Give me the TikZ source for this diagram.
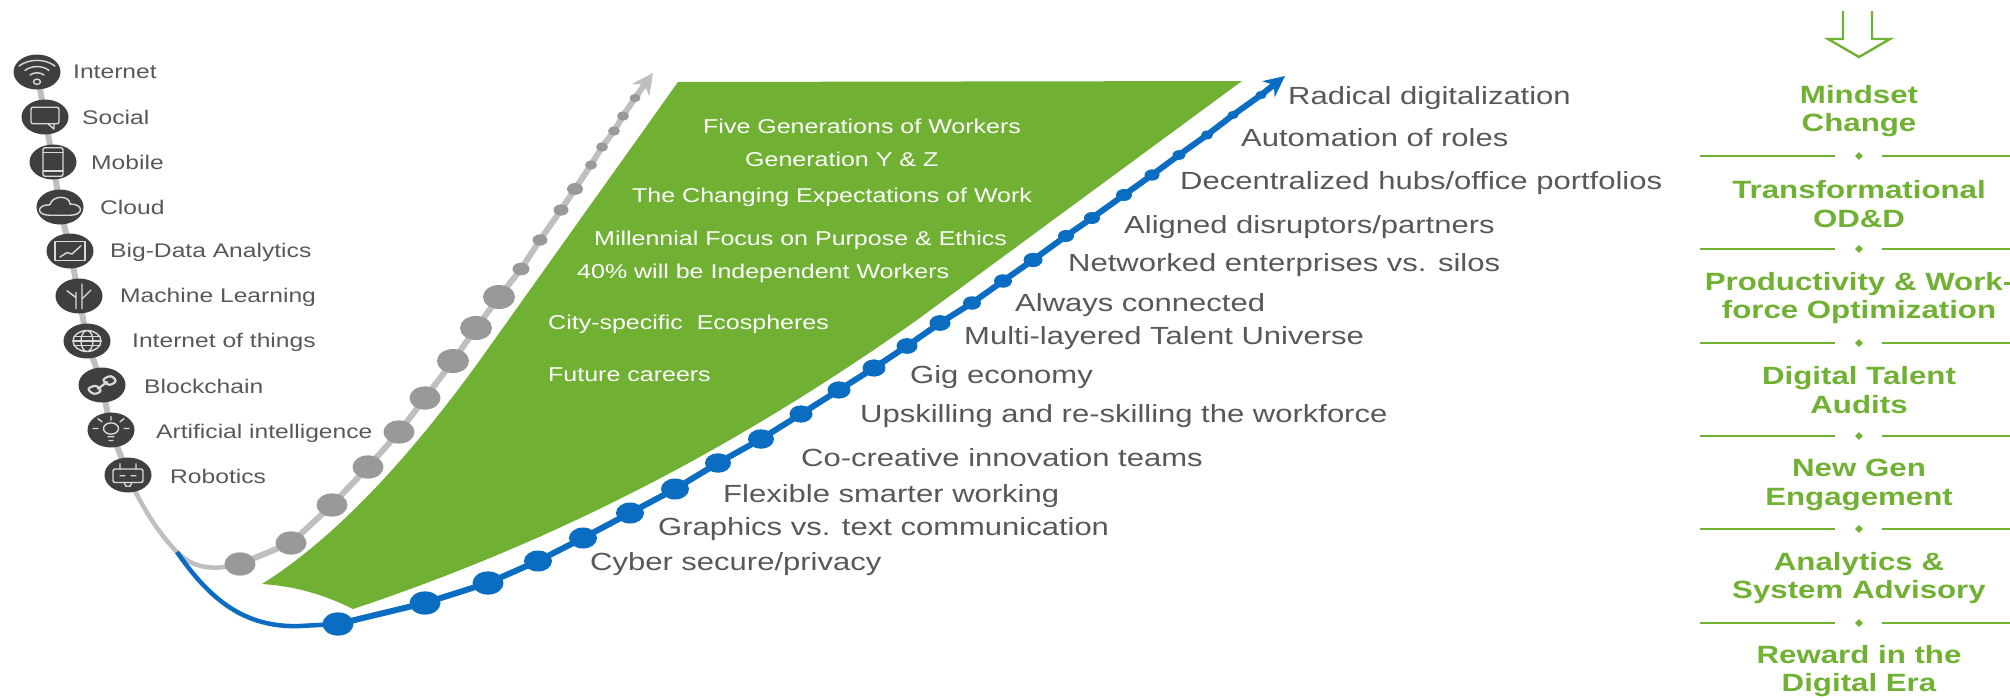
\documentclass[tikz,border=0pt]{standalone}
\usepackage{fontspec}
\setmainfont[FakeStretch=1.25]{Liberation Sans}
\usetikzlibrary{arrows.meta}
\usetikzlibrary{backgrounds}
\usetikzlibrary{shapes.geometric}
\definecolor{leaf}{HTML}{70B133}
\definecolor{techblue}{HTML}{0A6DC2}
\definecolor{inkgrey}{HTML}{58585A}
\definecolor{icondark}{HTML}{3F3F41}
\tikzset{
  techdot/.style={ellipse, fill=icondark, draw=none, minimum width=47pt, minimum height=35pt, inner sep=0pt},
  icon/.style={draw=white!85!black, line width=1.4pt, line join=round, line cap=round},
  iconat/.style={shift={(#1.center)}, yscale=0.75},
  techlabel/.style={anchor=west, inner sep=0pt, text=inkgrey, font=\fontsize{19.7}{22}\selectfont},
  greydot/.style={ellipse, fill=black!40, draw=none, inner sep=0pt},
  bluedot/.style={ellipse, fill=techblue, draw=none, inner sep=0pt},
  trendlabel/.style={anchor=west, inner sep=0pt, text=inkgrey, font=\fontsize{24.8}{28}\selectfont},
  worklabel/.style={anchor=west, inner sep=0pt, text=white, font=\fontsize{20}{22}\selectfont},
  sidelabel/.style={align=center, inner sep=0pt, text=leaf, font=\fontsize{25}{28.5}\selectfont\bfseries},
  sideline/.style={draw=leaf, line width=1.6pt},
  sidemark/.style={diamond, fill=leaf, draw=none, inner sep=0pt, minimum size=8pt},
}
\begin{document}
\begin{tikzpicture}[x=1pt, y=-1pt]
        \useasboundingbox (0, 0) rectangle (2010, 697);
        \fill[leaf] (262, 584) .. controls (340, 535) and (415, 450) .. (480, 360) -- (678, 82) -- (1242, 81) -- (917, 320) .. controls (740, 445) and (560, 540) .. (353, 609) .. controls (325, 595) and (295, 586) .. (262, 584) -- cycle;
        \foreach \tname/\x/\y/\lx/\ly/\tlabel in {int/37/72/73/72/Internet, soc/45/117/82/117/Social, mob/53/162/91/162/Mobile, clo/60/207/100/207/Cloud, big/70/251/110/252/Big-Data Analytics, mac/79/296/120/297/Machine Learning, iot/87/341/132/342/Internet of things, blo/102/385/144/386/Blockchain, art/111/430/156/433/Artificial intelligence, rob/128/475/170/476/Robotics}
          \node[techdot] (\tname) at (\x, \y) {} node[techlabel] (\tname-l) at (\lx, \ly) {\tlabel};
        \foreach \gname/\x/\y/\r in {g1/240/564/31, g2/291/543/31, g3/332/505/31, g4/368/467/31, g5/399/432/31, g6/425/398/31, g7/453/361/32, g8/476/328/32, g9/499/297/32, g10/521/269/17, g11/540/240/15, g12/561/210/15, g13/575/189/16, g14/591/165/12, g15/602/147/12, g16/614/131/12, g17/623/116/12, g18/635/98/11}
          \node[greydot, minimum width=\r pt, minimum height=0.75*\r pt] (\gname) at (\x, \y) {};
        \foreach \bname/\x/\y/\r in {b1/338/624/31, b2/425/603/31, b3/488/583/31, b4/538/561/28, b5/583/538/28, b6/630/513/28, b7/675/489/28, b8/718/463/26, b9/761/439/26, b10/801/414/23, b11/839/390/23, b12/874/368/23, b13/907/346/21, b14/940/323/21, b15/972/303/18, b16/1003/281/18, b17/1033/260/19, b18/1066/236/16, b19/1092/218/16, b20/1124/195/16, b21/1152/175/15, b22/1179/155/13, b23/1207/135/12, b24/1233/115/11, b25/1261/95/11}
          \node[bluedot, minimum width=\r pt, minimum height=0.75*\r pt] (\bname) at (\x, \y) {};
        \coordinate (gtip) at (653, 73);
        \coordinate (btip) at (1285, 76);
        \coordinate (fork) at (177, 552);
        \begin{scope}[on background layer]
          \draw[black!25, line width=6pt] (int.center) -- (soc.center) -- (mob.center) -- (clo.center) -- (big.center) -- (mac.center) -- (iot.center) -- (blo.center) -- (art.center) -- (rob.center);
          \draw[black!25, line width=4.5pt] (rob.center) .. controls (140, 505) and (160, 535) .. (fork.center) .. controls (195, 570) and (215, 570) .. (g1.center);
          \draw[black!25, line width=6pt, -{Stealth[length=21pt, width=21pt]}] (g1.center) -- (g2.center) -- (g3.center) -- (g4.center) -- (g5.center) -- (g6.center) -- (g7.center) -- (g8.center) -- (g9.center) -- (g10.center) -- (g11.center) -- (g12.center) -- (g13.center) -- (g14.center) -- (g15.center) -- (g16.center) -- (g17.center) -- (g18.center) -- (gtip);
          \draw[techblue, line width=4.5pt] (fork.center) .. controls (210, 600) and (245, 628) .. (300, 626) -- (b1.center);
          \draw[techblue, line width=6pt, -{Stealth[length=21pt, width=20pt]}] (b1.center) -- (b2.center) -- (b3.center) -- (b4.center) -- (b5.center) -- (b6.center) -- (b7.center) -- (b8.center) -- (b9.center) -- (b10.center) -- (b11.center) -- (b12.center) -- (b13.center) -- (b14.center) -- (b15.center) -- (b16.center) -- (b17.center) -- (b18.center) -- (b19.center) -- (b20.center) -- (b21.center) -- (b22.center) -- (b23.center) -- (b24.center) -- (b25.center) -- (btip);
        \end{scope}
        % icons
        \begin{scope}[iconat=int]
          \draw[icon] (-18, -8) .. controls (-8, -18) and (8, -18) .. (18, -8);
          \draw[icon] (-12, -2) .. controls (-6, -9) and (6, -9) .. (12, -2);
          \draw[icon] (-7, 4) .. controls (-3, 0) and (3, 0) .. (7, 4);
          \draw[icon] (0, 13) circle (3.5pt);
        \end{scope}
        \begin{scope}[iconat=soc]
          \draw[icon, rounded corners=2pt] (-14, -13) rectangle (14, 9);
          \draw[icon] (3, 9) -- (9, 16) -- (9, 9);
        \end{scope}
        \begin{scope}[iconat=mob]
          \draw[icon, rounded corners=2pt] (-10, -19) rectangle (10, 19);
          \draw[icon] (-10, -13) -- (10, -13) (-10, 12) -- (10, 12);
        \end{scope}
        \begin{scope}[iconat=clo]
          \draw[icon] (-10, 11) .. controls (-24, 11) and (-24, -3) .. (-10, -3) .. controls (-8, -16) and (10, -16) .. (10, -4) .. controls (24, -4) and (24, 11) .. (10, 11) -- cycle;
        \end{scope}
        \begin{scope}[iconat=big]
          \draw[icon] (-15, -13) rectangle (15, 13);
          \draw[icon] (-10, 8) -- (-3, 2) -- (2, 4) -- (11, -7);
        \end{scope}
        \begin{scope}[iconat=mac]
          \draw[icon] (-3, 17) -- (-3, 2) -- (-12, -7) (3, 17) -- (3, -16) (3, 4) -- (12, -8) (-3, 2) -- (-3, -5);
        \end{scope}
        \begin{scope}[iconat=iot]
          \draw[icon] (0, 0) circle (14pt) ellipse (6pt and 14pt);
          \draw[icon] (-13, -6) -- (13, -6) (-14, 0) -- (14, 0) (-13, 6) -- (13, 6);
        \end{scope}
        \begin{scope}[iconat=blo]
          \draw[icon, line width=2.2pt, rounded corners=3pt] (-15, 5) -- (-8, 13) -- (0, 8) -- (-6, 0) -- cycle;
          \draw[icon, line width=2.2pt, rounded corners=3pt] (0, -7) -- (7, 1) -- (15, -5) -- (9, -13) -- cycle;
          \draw[icon, line width=2.2pt] (-4, 5) -- (5, -4);
        \end{scope}
        \begin{scope}[iconat=art]
          \draw[icon] (0, -2) circle (7.5pt);
          \draw[icon] (-3, 9) -- (3, 9) (-2, 14) -- (2, 14) (-13, -2) -- (-18, -2) (13, -2) -- (18, -2) (-9, -11) -- (-13, -15) (9, -11) -- (13, -15) (0, -13) -- (0, -18);
        \end{scope}
        \begin{scope}[iconat=rob]
          \draw[icon, rounded corners=2pt] (-15, -8) rectangle (15, 10);
          \draw[icon] (-8, -8) -- (-8, -15) (8, -8) -- (8, -15) (-8, 1) -- (-3, 1) (3, 1) -- (8, 1) (-4, 10) -- (-2, 15) -- (2, 15) -- (4, 10);
        \end{scope}
        % labels on the blue curve
        \foreach \lname/\x/\y/\ltext in {l1/1288/98/{Radical digitalization}, l2/1241/138/{Automation of roles}, l3/1180/183/{Decentralized hubs/office portfolios}, l4/1124/227/{Aligned disruptors/partners}, l5/1068/265/{Networked enterprises vs. silos}, l6/1015/305/{Always connected}, l7/964/338/{Multi-layered Talent Universe}, l8/910/377/{Gig economy}, l9/860/416/{Upskilling and re-skilling the workforce}, l10/801/458/{Co-creative innovation teams}, l11/723/496/{Flexible smarter working}, l12/658/529/{Graphics vs. text communication}, l13/590/564/{Cyber secure/privacy}}
          \node[trendlabel] (\lname) at (\x, \y) {\ltext};
        \foreach \wname/\x/\y/\wtext in {w1/703/126/Five Generations of Workers, w2/745/159/Generation Y \& Z, w3/632/197/The Changing Expectations of Work, w4/594/240/Millennial Focus on Purpose \& Ethics, w5/577/273/40\% will be Independent Workers, w6/548/324/City-specific\ \ Ecospheres, w7/548/375/Future careers}
          \node[worklabel] (\wname) at (\x, \y) {\wtext};
        % right hand column
        \draw[draw=leaf, line width=2.4pt, line join=miter] (1843, 11) -- (1843, 39) -- (1828, 39) -- (1859, 57) -- (1890, 39) -- (1872, 39) -- (1872, 11);
        \foreach \sname/\y/\stext in {s1/111/{Mindset\\Change}, s2/204/{Transformational\\OD\&D}, s3/298/{Productivity \& Work-\\force Optimization}, s4/390/{Digital Talent\\Audits}, s5/485/{New Gen\\Engagement}, s6/578/{Analytics \&\\System Advisory}, s7/671/{Reward in the\\Digital Era}}
          \node[sidelabel] (\sname) at (1859, \y) {\stext};
        \foreach \mname/\y in {m1/156, m2/249, m3/343, m4/436, m5/529, m6/623} {
          \node[sidemark] (\mname) at (1859, \y) {};
          \draw[sideline] (1700, \y) -- (1835, \y) (1882, \y) -- (2010, \y);
        }
      \end{tikzpicture}
\end{document}
